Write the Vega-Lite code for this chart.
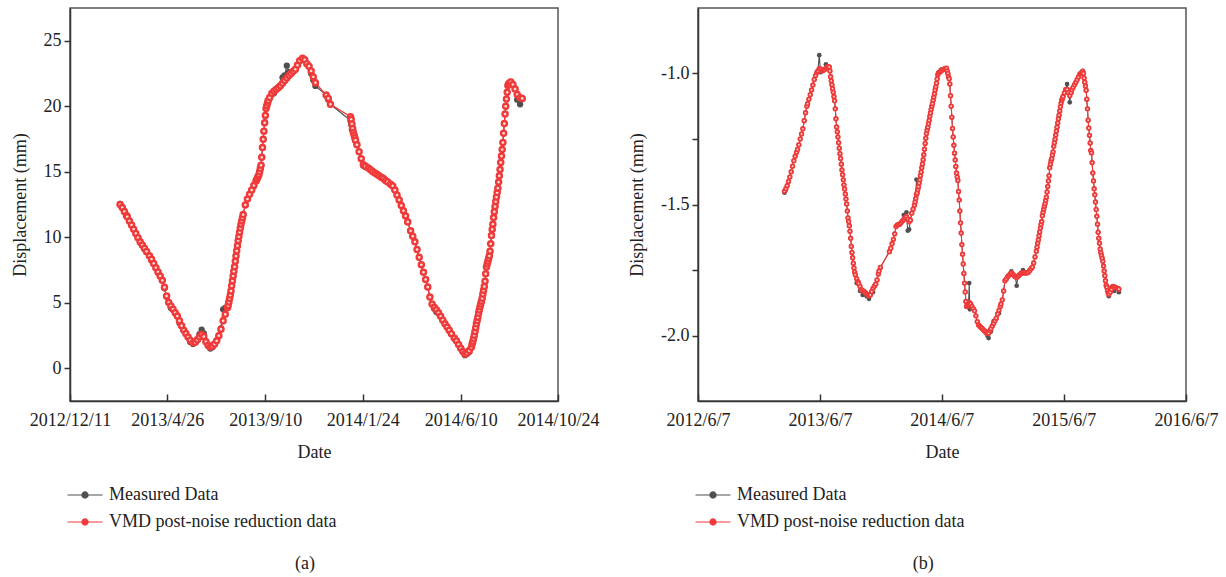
{
  "$schema": "https://vega.github.io/schema/vega-lite/v6.json",
  "background": "white",
  "padding": {"left": 10, "top": 7, "right": 0, "bottom": 0},
  "spacing": 140,
  "bounds": "flush",
  "datasets": {
    "a": [
      {"d":"2013-02-19","m":12.55,"v":12.5},{"d":"2013-02-22","m":12.27,"v":12.27},{"d":"2013-02-25","m":11.96,"v":11.96},{"d":"2013-02-28","m":11.62,"v":11.66},
      {"d":"2013-03-01","m":11.56,"v":11.56},{"d":"2013-03-04","m":11.24,"v":11.24},{"d":"2013-03-07","m":10.9,"v":10.93},{"d":"2013-03-10","m":10.61,"v":10.61},{"d":"2013-03-13","m":10.25,"v":10.29},{"d":"2013-03-16","m":9.97,"v":9.97},{"d":"2013-03-19","m":9.6,"v":9.65},{"d":"2013-03-22","m":9.41,"v":9.41},{"d":"2013-03-25","m":9.1,"v":9.16},{"d":"2013-03-28","m":8.85,"v":8.92},
      {"d":"2013-04-01","m":8.58,"v":8.58},{"d":"2013-04-04","m":8.2,"v":8.33},{"d":"2013-04-07","m":7.95,"v":8.0},{"d":"2013-04-10","m":7.68,"v":7.68},{"d":"2013-04-13","m":7.3,"v":7.35},{"d":"2013-04-16","m":7.04,"v":7.04},{"d":"2013-04-19","m":6.71,"v":6.71},{"d":"2013-04-22","m":6.1,"v":6.18},{"d":"2013-04-25","m":5.45,"v":5.52},{"d":"2013-04-28","m":5.02,"v":5.02},
      {"d":"2013-05-01","m":4.6,"v":4.75},{"d":"2013-05-04","m":4.5,"v":4.5},{"d":"2013-05-07","m":4.2,"v":4.24},{"d":"2013-05-10","m":3.98,"v":3.98},{"d":"2013-05-13","m":3.45,"v":3.63},{"d":"2013-05-16","m":3.2,"v":3.25},{"d":"2013-05-19","m":2.9,"v":2.9},{"d":"2013-05-22","m":2.6,"v":2.65},{"d":"2013-05-25","m":2.38,"v":2.38},{"d":"2013-05-28","m":2.0,"v":2.14},
      {"d":"2013-06-01","m":1.85,"v":1.95},{"d":"2013-06-04","m":1.99,"v":1.99},{"d":"2013-06-07","m":2.2,"v":2.17},{"d":"2013-06-10","m":2.6,"v":2.39},{"d":"2013-06-13","m":2.95,"v":2.58},{"d":"2013-06-16","m":2.65,"v":2.42},{"d":"2013-06-19","m":2.03,"v":2.03},{"d":"2013-06-22","m":1.7,"v":1.75},{"d":"2013-06-25","m":1.5,"v":1.62},{"d":"2013-06-28","m":1.6,"v":1.68},
      {"d":"2013-07-01","m":1.8,"v":1.85},{"d":"2013-07-04","m":2.09,"v":2.09},{"d":"2013-07-07","m":2.49,"v":2.49},{"d":"2013-07-10","m":3.05,"v":2.98},{"d":"2013-07-13","m":4.5,"v":3.62},{"d":"2013-07-16","m":4.6,"v":4.12},{"d":"2013-07-19","m":4.61,"v":4.61},{"d":"2013-07-20","m":4.79,"v":4.79},{"d":"2013-07-21","m":5.06,"v":5.06},{"d":"2013-07-22","m":5.32,"v":5.32},{"d":"2013-07-23","m":5.59,"v":5.59},{"d":"2013-07-24","m":5.9,"v":5.9},{"d":"2013-07-25","m":6.29,"v":6.29},{"d":"2013-07-26","m":6.67,"v":6.67},{"d":"2013-07-27","m":7.05,"v":7.05},{"d":"2013-07-28","m":7.4,"v":7.4},{"d":"2013-07-29","m":7.75,"v":7.75},{"d":"2013-07-30","m":8.17,"v":8.17},{"d":"2013-07-31","m":8.57,"v":8.57},
      {"d":"2013-08-01","m":8.96,"v":8.96},{"d":"2013-08-02","m":9.36,"v":9.36},{"d":"2013-08-03","m":9.74,"v":9.74},{"d":"2013-08-04","m":10.05,"v":10.05},{"d":"2013-08-05","m":10.39,"v":10.39},{"d":"2013-08-06","m":10.7,"v":10.7},{"d":"2013-08-07","m":11.0,"v":11.0},{"d":"2013-08-08","m":11.25,"v":11.25},{"d":"2013-08-09","m":11.49,"v":11.49},{"d":"2013-08-10","m":11.73,"v":11.73},{"d":"2013-08-13","m":12.47,"v":12.47},{"d":"2013-08-16","m":12.92,"v":12.92},{"d":"2013-08-19","m":13.28,"v":13.28},{"d":"2013-08-22","m":13.61,"v":13.61},{"d":"2013-08-25","m":13.9,"v":13.96},{"d":"2013-08-28","m":14.3,"v":14.3},{"d":"2013-08-29","m":14.42,"v":14.42},{"d":"2013-08-30","m":14.53,"v":14.53},{"d":"2013-08-31","m":14.65,"v":14.65},
      {"d":"2013-09-01","m":14.78,"v":14.78},{"d":"2013-09-02","m":15.0,"v":15.0},{"d":"2013-09-03","m":15.25,"v":15.25},{"d":"2013-09-04","m":15.5,"v":15.5},{"d":"2013-09-05","m":16.1,"v":16.1},{"d":"2013-09-06","m":16.85,"v":16.85},{"d":"2013-09-07","m":17.48,"v":17.48},{"d":"2013-09-08","m":18.1,"v":18.1},{"d":"2013-09-09","m":18.74,"v":18.74},{"d":"2013-09-10","m":19.3,"v":19.3},{"d":"2013-09-11","m":19.83,"v":19.83},{"d":"2013-09-12","m":20.04,"v":20.04},{"d":"2013-09-13","m":20.25,"v":20.25},{"d":"2013-09-14","m":20.43,"v":20.43},{"d":"2013-09-16","m":20.6,"v":20.67},{"d":"2013-09-19","m":20.9,"v":20.98},{"d":"2013-09-22","m":21.0,"v":21.15},{"d":"2013-09-25","m":21.28,"v":21.28},{"d":"2013-09-28","m":21.41,"v":21.41},
      {"d":"2013-10-01","m":21.56,"v":21.56},{"d":"2013-10-04","m":22.2,"v":21.76},{"d":"2013-10-07","m":22.35,"v":21.96},{"d":"2013-10-10","m":23.1,"v":22.15},{"d":"2013-10-13","m":22.6,"v":22.34},{"d":"2013-10-16","m":22.5,"v":22.5},{"d":"2013-10-19","m":22.67,"v":22.67},{"d":"2013-10-22","m":22.83,"v":22.83},{"d":"2013-10-25","m":23.14,"v":23.14},{"d":"2013-10-28","m":23.48,"v":23.48},
      {"d":"2013-11-01","m":23.66,"v":23.66},{"d":"2013-11-04","m":23.55,"v":23.55},{"d":"2013-11-07","m":23.25,"v":23.25},{"d":"2013-11-10","m":23.06,"v":23.06},{"d":"2013-11-13","m":22.5,"v":22.7},{"d":"2013-11-16","m":22.0,"v":22.24},{"d":"2013-11-19","m":21.55,"v":21.8},
      {"d":"2013-12-04","m":20.85,"v":20.85},{"d":"2013-12-07","m":20.5,"v":20.6},{"d":"2013-12-10","m":20.15,"v":20.15},
      {"d":"2014-01-07","m":18.9,"v":19.2},{"d":"2014-01-08","m":18.6,"v":19.0},{"d":"2014-01-09","m":18.2,"v":18.65},{"d":"2014-01-10","m":18.3,"v":18.3},{"d":"2014-01-11","m":18.0,"v":18.0},{"d":"2014-01-12","m":17.8,"v":17.8},{"d":"2014-01-13","m":17.6,"v":17.6},{"d":"2014-01-14","m":17.4,"v":17.4},{"d":"2014-01-16","m":17.06,"v":17.06},{"d":"2014-01-19","m":16.53,"v":16.53},{"d":"2014-01-22","m":16.0,"v":16.0},{"d":"2014-01-25","m":15.45,"v":15.53},{"d":"2014-01-28","m":15.35,"v":15.42},
      {"d":"2014-02-01","m":15.28,"v":15.28},{"d":"2014-02-04","m":15.15,"v":15.15},{"d":"2014-02-07","m":15.02,"v":15.02},{"d":"2014-02-10","m":14.91,"v":14.91},{"d":"2014-02-13","m":14.8,"v":14.8},{"d":"2014-02-16","m":14.69,"v":14.69},{"d":"2014-02-19","m":14.58,"v":14.58},{"d":"2014-02-22","m":14.48,"v":14.48},{"d":"2014-02-25","m":14.34,"v":14.34},{"d":"2014-02-28","m":14.22,"v":14.22},
      {"d":"2014-03-04","m":14.05,"v":14.05},{"d":"2014-03-07","m":13.92,"v":13.92},{"d":"2014-03-10","m":13.6,"v":13.6},{"d":"2014-03-13","m":13.22,"v":13.22},{"d":"2014-03-16","m":12.85,"v":12.85},{"d":"2014-03-19","m":12.42,"v":12.42},{"d":"2014-03-22","m":12.03,"v":12.03},{"d":"2014-03-25","m":11.63,"v":11.63},{"d":"2014-03-28","m":11.17,"v":11.17},
      {"d":"2014-04-01","m":10.49,"v":10.49},{"d":"2014-04-04","m":10.08,"v":10.08},{"d":"2014-04-07","m":9.65,"v":9.65},{"d":"2014-04-10","m":9.07,"v":9.07},{"d":"2014-04-13","m":8.47,"v":8.47},{"d":"2014-04-16","m":7.9,"v":7.9},{"d":"2014-04-19","m":7.33,"v":7.33},{"d":"2014-04-22","m":6.78,"v":6.78},{"d":"2014-04-25","m":6.2,"v":6.2},{"d":"2014-04-28","m":5.43,"v":5.43},
      {"d":"2014-05-01","m":4.9,"v":4.9},{"d":"2014-05-04","m":4.55,"v":4.65},{"d":"2014-05-07","m":4.3,"v":4.46},{"d":"2014-05-10","m":4.2,"v":4.23},{"d":"2014-05-13","m":3.96,"v":3.96},{"d":"2014-05-16","m":3.67,"v":3.67},{"d":"2014-05-19","m":3.39,"v":3.39},{"d":"2014-05-22","m":3.15,"v":3.15},{"d":"2014-05-25","m":2.9,"v":2.9},{"d":"2014-05-28","m":2.64,"v":2.64},
      {"d":"2014-06-01","m":2.31,"v":2.31},{"d":"2014-06-04","m":2.09,"v":2.09},{"d":"2014-06-07","m":1.81,"v":1.81},{"d":"2014-06-10","m":1.52,"v":1.52},{"d":"2014-06-13","m":1.27,"v":1.27},{"d":"2014-06-16","m":1.0,"v":1.08},{"d":"2014-06-19","m":1.1,"v":1.17},{"d":"2014-06-22","m":1.25,"v":1.35},{"d":"2014-06-25","m":1.6,"v":1.6},{"d":"2014-06-26","m":1.85,"v":1.85},{"d":"2014-06-27","m":2.05,"v":2.05},{"d":"2014-06-28","m":2.27,"v":2.27},{"d":"2014-06-29","m":2.52,"v":2.52},{"d":"2014-06-30","m":2.81,"v":2.81},
      {"d":"2014-07-01","m":3.1,"v":3.1},{"d":"2014-07-02","m":3.39,"v":3.39},{"d":"2014-07-03","m":3.64,"v":3.64},{"d":"2014-07-04","m":3.9,"v":3.9},{"d":"2014-07-05","m":4.2,"v":4.2},{"d":"2014-07-06","m":4.45,"v":4.45},{"d":"2014-07-07","m":4.69,"v":4.69},{"d":"2014-07-08","m":4.9,"v":4.9},{"d":"2014-07-09","m":5.12,"v":5.12},{"d":"2014-07-10","m":5.34,"v":5.34},{"d":"2014-07-11","m":5.66,"v":5.66},{"d":"2014-07-12","m":5.95,"v":5.95},{"d":"2014-07-13","m":6.24,"v":6.24},{"d":"2014-07-14","m":6.64,"v":6.64},{"d":"2014-07-15","m":7.21,"v":7.21},{"d":"2014-07-16","m":7.73,"v":7.73},{"d":"2014-07-17","m":7.96,"v":7.96},{"d":"2014-07-18","m":8.17,"v":8.17},{"d":"2014-07-19","m":8.38,"v":8.38},{"d":"2014-07-20","m":8.58,"v":8.58},{"d":"2014-07-21","m":8.94,"v":8.94},{"d":"2014-07-22","m":9.5,"v":9.5},{"d":"2014-07-23","m":10.13,"v":10.13},{"d":"2014-07-24","m":10.6,"v":10.6},{"d":"2014-07-25","m":11.0,"v":11.0},{"d":"2014-07-26","m":11.5,"v":11.5},{"d":"2014-07-27","m":11.95,"v":11.95},{"d":"2014-07-28","m":12.35,"v":12.35},{"d":"2014-07-29","m":12.73,"v":12.73},{"d":"2014-07-30","m":13.07,"v":13.07},{"d":"2014-07-31","m":13.41,"v":13.41},
      {"d":"2014-08-01","m":13.75,"v":13.75},{"d":"2014-08-02","m":14.21,"v":14.21},{"d":"2014-08-03","m":14.69,"v":14.69},{"d":"2014-08-04","m":15.17,"v":15.17},{"d":"2014-08-05","m":15.71,"v":15.71},{"d":"2014-08-06","m":16.2,"v":16.2},{"d":"2014-08-07","m":16.7,"v":16.7},{"d":"2014-08-08","m":17.23,"v":17.23},{"d":"2014-08-09","m":17.94,"v":17.94},{"d":"2014-08-10","m":18.68,"v":18.68},{"d":"2014-08-11","m":19.41,"v":19.41},{"d":"2014-08-12","m":20.0,"v":20.0},{"d":"2014-08-13","m":20.55,"v":20.55},{"d":"2014-08-14","m":21.06,"v":21.06},{"d":"2014-08-15","m":21.58,"v":21.58},{"d":"2014-08-16","m":21.7,"v":21.7},{"d":"2014-08-17","m":21.76,"v":21.76},{"d":"2014-08-19","m":21.86,"v":21.86},{"d":"2014-08-22","m":21.66,"v":21.66},{"d":"2014-08-25","m":21.32,"v":21.32},{"d":"2014-08-28","m":20.5,"v":20.9},
      {"d":"2014-09-01","m":20.15,"v":20.65},{"d":"2014-09-04","m":20.55,"v":20.6}
    ],
    "b": [
      {"d":"2013-02-21","m":-1.455,"v":-1.449},{"d":"2013-02-25","m":-1.445,"v":-1.44},
      {"d":"2013-03-01","m":-1.428,"v":-1.428},{"d":"2013-03-05","m":-1.412,"v":-1.412},{"d":"2013-03-09","m":-1.395,"v":-1.395},{"d":"2013-03-13","m":-1.375,"v":-1.375},{"d":"2013-03-17","m":-1.354,"v":-1.354},{"d":"2013-03-21","m":-1.333,"v":-1.333},{"d":"2013-03-25","m":-1.316,"v":-1.316},{"d":"2013-03-29","m":-1.301,"v":-1.301},
      {"d":"2013-04-01","m":-1.29,"v":-1.29},{"d":"2013-04-05","m":-1.272,"v":-1.272},{"d":"2013-04-09","m":-1.25,"v":-1.25},{"d":"2013-04-13","m":-1.231,"v":-1.231},{"d":"2013-04-17","m":-1.211,"v":-1.211},{"d":"2013-04-21","m":-1.18,"v":-1.18},{"d":"2013-04-25","m":-1.15,"v":-1.15},{"d":"2013-04-29","m":-1.125,"v":-1.125},
      {"d":"2013-05-01","m":-1.115,"v":-1.115},{"d":"2013-05-05","m":-1.098,"v":-1.098},{"d":"2013-05-09","m":-1.081,"v":-1.081},{"d":"2013-05-13","m":-1.063,"v":-1.063},{"d":"2013-05-17","m":-1.044,"v":-1.044},{"d":"2013-05-21","m":-1.023,"v":-1.023},{"d":"2013-05-25","m":-1.008,"v":-1.008},{"d":"2013-05-29","m":-0.996,"v":-0.996},
      {"d":"2013-06-01","m":-0.99,"v":-0.99},{"d":"2013-06-05","m":-0.93,"v":-0.982},{"d":"2013-06-09","m":-0.995,"v":-0.983},{"d":"2013-06-13","m":-0.99,"v":-0.99},{"d":"2013-06-17","m":-0.988,"v":-0.988},{"d":"2013-06-21","m":-0.985,"v":-0.985},{"d":"2013-06-25","m":-0.965,"v":-0.98},{"d":"2013-06-29","m":-0.975,"v":-0.975},
      {"d":"2013-07-01","m":-0.974,"v":-0.974},{"d":"2013-07-05","m":-0.975,"v":-0.975},{"d":"2013-07-07","m":-0.99,"v":-0.99},{"d":"2013-07-09","m":-1.012,"v":-1.012},{"d":"2013-07-11","m":-1.028,"v":-1.028},{"d":"2013-07-13","m":-1.043,"v":-1.043},{"d":"2013-07-15","m":-1.058,"v":-1.058},{"d":"2013-07-17","m":-1.072,"v":-1.072},{"d":"2013-07-19","m":-1.088,"v":-1.088},{"d":"2013-07-21","m":-1.104,"v":-1.104},{"d":"2013-07-23","m":-1.135,"v":-1.135},{"d":"2013-07-25","m":-1.173,"v":-1.173},{"d":"2013-07-27","m":-1.204,"v":-1.204},{"d":"2013-07-29","m":-1.222,"v":-1.222},{"d":"2013-07-31","m":-1.242,"v":-1.242},
      {"d":"2013-08-02","m":-1.264,"v":-1.264},{"d":"2013-08-04","m":-1.285,"v":-1.285},{"d":"2013-08-06","m":-1.306,"v":-1.306},{"d":"2013-08-08","m":-1.324,"v":-1.324},{"d":"2013-08-10","m":-1.346,"v":-1.346},{"d":"2013-08-12","m":-1.368,"v":-1.368},{"d":"2013-08-14","m":-1.386,"v":-1.386},{"d":"2013-08-16","m":-1.406,"v":-1.406},{"d":"2013-08-18","m":-1.425,"v":-1.425},{"d":"2013-08-20","m":-1.441,"v":-1.441},{"d":"2013-08-22","m":-1.46,"v":-1.46},{"d":"2013-08-24","m":-1.479,"v":-1.479},{"d":"2013-08-26","m":-1.498,"v":-1.498},{"d":"2013-08-28","m":-1.525,"v":-1.525},{"d":"2013-08-30","m":-1.551,"v":-1.551},
      {"d":"2013-09-01","m":-1.565,"v":-1.565},{"d":"2013-09-03","m":-1.581,"v":-1.581},{"d":"2013-09-05","m":-1.602,"v":-1.602},{"d":"2013-09-07","m":-1.629,"v":-1.629},{"d":"2013-09-09","m":-1.66,"v":-1.66},{"d":"2013-09-11","m":-1.683,"v":-1.683},{"d":"2013-09-13","m":-1.703,"v":-1.703},{"d":"2013-09-15","m":-1.724,"v":-1.724},{"d":"2013-09-17","m":-1.742,"v":-1.742},{"d":"2013-09-19","m":-1.758,"v":-1.758},{"d":"2013-09-21","m":-1.768,"v":-1.768},{"d":"2013-09-25","m":-1.8,"v":-1.783},{"d":"2013-09-29","m":-1.795,"v":-1.795},
      {"d":"2013-10-01","m":-1.802,"v":-1.802},{"d":"2013-10-05","m":-1.83,"v":-1.813},{"d":"2013-10-09","m":-1.825,"v":-1.825},{"d":"2013-10-13","m":-1.845,"v":-1.829},{"d":"2013-10-17","m":-1.832,"v":-1.832},{"d":"2013-10-21","m":-1.837,"v":-1.837},{"d":"2013-10-25","m":-1.85,"v":-1.841},{"d":"2013-10-29","m":-1.845,"v":-1.845},
      {"d":"2013-11-01","m":-1.86,"v":-1.848},{"d":"2013-11-05","m":-1.845,"v":-1.845},{"d":"2013-11-09","m":-1.832,"v":-1.832},{"d":"2013-11-13","m":-1.835,"v":-1.82},{"d":"2013-11-17","m":-1.812,"v":-1.812},{"d":"2013-11-21","m":-1.804,"v":-1.804},{"d":"2013-11-25","m":-1.788,"v":-1.788},{"d":"2013-11-29","m":-1.765,"v":-1.765},
      {"d":"2013-12-01","m":-1.754,"v":-1.754},{"d":"2013-12-05","m":-1.74,"v":-1.74},
      {"d":"2014-01-01","m":-1.68,"v":-1.68},{"d":"2014-01-05","m":-1.667,"v":-1.667},{"d":"2014-01-09","m":-1.65,"v":-1.65},{"d":"2014-01-13","m":-1.633,"v":-1.633},{"d":"2014-01-17","m":-1.612,"v":-1.612},{"d":"2014-01-21","m":-1.584,"v":-1.584},{"d":"2014-01-25","m":-1.578,"v":-1.578},{"d":"2014-01-29","m":-1.576,"v":-1.576},
      {"d":"2014-02-01","m":-1.575,"v":-1.575},{"d":"2014-02-05","m":-1.569,"v":-1.569},{"d":"2014-02-09","m":-1.563,"v":-1.563},{"d":"2014-02-13","m":-1.54,"v":-1.557},{"d":"2014-02-17","m":-1.551,"v":-1.551},{"d":"2014-02-21","m":-1.53,"v":-1.546},{"d":"2014-02-25","m":-1.6,"v":-1.555},
      {"d":"2014-03-01","m":-1.595,"v":-1.566},{"d":"2014-03-05","m":-1.56,"v":-1.56},{"d":"2014-03-09","m":-1.533,"v":-1.533},{"d":"2014-03-13","m":-1.518,"v":-1.518},{"d":"2014-03-17","m":-1.503,"v":-1.503},{"d":"2014-03-19","m":-1.49,"v":-1.49},{"d":"2014-03-21","m":-1.477,"v":-1.477},{"d":"2014-03-23","m":-1.405,"v":-1.463},{"d":"2014-03-25","m":-1.456,"v":-1.456},{"d":"2014-03-27","m":-1.444,"v":-1.444},{"d":"2014-03-29","m":-1.432,"v":-1.432},{"d":"2014-03-31","m":-1.418,"v":-1.418},
      {"d":"2014-04-02","m":-1.406,"v":-1.406},{"d":"2014-04-04","m":-1.39,"v":-1.39},{"d":"2014-04-06","m":-1.376,"v":-1.376},{"d":"2014-04-08","m":-1.36,"v":-1.36},{"d":"2014-04-10","m":-1.345,"v":-1.345},{"d":"2014-04-12","m":-1.329,"v":-1.329},{"d":"2014-04-14","m":-1.31,"v":-1.31},{"d":"2014-04-16","m":-1.289,"v":-1.289},{"d":"2014-04-18","m":-1.267,"v":-1.267},{"d":"2014-04-20","m":-1.247,"v":-1.247},{"d":"2014-04-22","m":-1.229,"v":-1.229},{"d":"2014-04-24","m":-1.216,"v":-1.216},{"d":"2014-04-26","m":-1.205,"v":-1.205},{"d":"2014-04-28","m":-1.192,"v":-1.192},{"d":"2014-04-30","m":-1.179,"v":-1.179},
      {"d":"2014-05-02","m":-1.164,"v":-1.164},{"d":"2014-05-04","m":-1.151,"v":-1.151},{"d":"2014-05-06","m":-1.137,"v":-1.137},{"d":"2014-05-08","m":-1.125,"v":-1.125},{"d":"2014-05-10","m":-1.115,"v":-1.115},{"d":"2014-05-12","m":-1.102,"v":-1.102},{"d":"2014-05-14","m":-1.09,"v":-1.09},{"d":"2014-05-16","m":-1.077,"v":-1.077},{"d":"2014-05-18","m":-1.063,"v":-1.063},{"d":"2014-05-20","m":-1.051,"v":-1.051},{"d":"2014-05-22","m":-1.037,"v":-1.037},{"d":"2014-05-24","m":-1.021,"v":-1.021},{"d":"2014-05-26","m":-1.005,"v":-1.005},{"d":"2014-05-28","m":-0.998,"v":-0.998},{"d":"2014-05-30","m":-0.996,"v":-0.996},
      {"d":"2014-06-01","m":-0.994,"v":-0.994},{"d":"2014-06-05","m":-0.985,"v":-0.99},{"d":"2014-06-09","m":-0.986,"v":-0.986},{"d":"2014-06-13","m":-0.984,"v":-0.984},{"d":"2014-06-17","m":-0.981,"v":-0.981},{"d":"2014-06-21","m":-0.98,"v":-0.98},{"d":"2014-06-23","m":-0.99,"v":-0.99},{"d":"2014-06-25","m":-1.0,"v":-1.0},{"d":"2014-06-27","m":-1.012,"v":-1.012},{"d":"2014-06-29","m":-1.02,"v":-1.02},
      {"d":"2014-07-01","m":-1.04,"v":-1.04},{"d":"2014-07-03","m":-1.085,"v":-1.085},{"d":"2014-07-05","m":-1.125,"v":-1.125},{"d":"2014-07-07","m":-1.167,"v":-1.167},{"d":"2014-07-09","m":-1.21,"v":-1.21},{"d":"2014-07-11","m":-1.242,"v":-1.242},{"d":"2014-07-13","m":-1.274,"v":-1.274},{"d":"2014-07-15","m":-1.304,"v":-1.304},{"d":"2014-07-17","m":-1.33,"v":-1.33},{"d":"2014-07-19","m":-1.355,"v":-1.355},{"d":"2014-07-21","m":-1.38,"v":-1.38},{"d":"2014-07-23","m":-1.395,"v":-1.395},{"d":"2014-07-25","m":-1.408,"v":-1.408},{"d":"2014-07-27","m":-1.45,"v":-1.45},{"d":"2014-07-29","m":-1.483,"v":-1.483},{"d":"2014-07-31","m":-1.525,"v":-1.525},
      {"d":"2014-08-02","m":-1.57,"v":-1.57},{"d":"2014-08-04","m":-1.609,"v":-1.609},{"d":"2014-08-06","m":-1.653,"v":-1.653},{"d":"2014-08-08","m":-1.69,"v":-1.69},{"d":"2014-08-10","m":-1.727,"v":-1.727},{"d":"2014-08-12","m":-1.763,"v":-1.763},{"d":"2014-08-14","m":-1.8,"v":-1.8},{"d":"2014-08-16","m":-1.834,"v":-1.834},{"d":"2014-08-18","m":-1.87,"v":-1.87},{"d":"2014-08-20","m":-1.889,"v":-1.889},{"d":"2014-08-22","m":-1.886,"v":-1.886},{"d":"2014-08-24","m":-1.882,"v":-1.882},{"d":"2014-08-26","m":-1.879,"v":-1.879},{"d":"2014-08-28","m":-1.8,"v":-1.876},{"d":"2014-08-30","m":-1.9,"v":-1.876},
      {"d":"2014-09-01","m":-1.88,"v":-1.88},{"d":"2014-09-05","m":-1.889,"v":-1.889},{"d":"2014-09-09","m":-1.898,"v":-1.898},{"d":"2014-09-13","m":-1.906,"v":-1.906},{"d":"2014-09-17","m":-1.925,"v":-1.925},{"d":"2014-09-21","m":-1.947,"v":-1.947},{"d":"2014-09-25","m":-1.96,"v":-1.96},{"d":"2014-09-29","m":-1.965,"v":-1.965},
      {"d":"2014-10-01","m":-1.968,"v":-1.968},{"d":"2014-10-05","m":-1.972,"v":-1.972},{"d":"2014-10-09","m":-1.978,"v":-1.978},{"d":"2014-10-13","m":-1.983,"v":-1.983},{"d":"2014-10-17","m":-1.988,"v":-1.988},{"d":"2014-10-21","m":-2.0,"v":-1.993},{"d":"2014-10-25","m":-2.01,"v":-1.991},{"d":"2014-10-29","m":-1.981,"v":-1.981},
      {"d":"2014-11-01","m":-1.985,"v":-1.974},{"d":"2014-11-05","m":-1.964,"v":-1.964},{"d":"2014-11-09","m":-1.945,"v":-1.954},{"d":"2014-11-13","m":-1.944,"v":-1.944},{"d":"2014-11-17","m":-1.934,"v":-1.934},{"d":"2014-11-21","m":-1.918,"v":-1.918},{"d":"2014-11-25","m":-1.915,"v":-1.904},{"d":"2014-11-29","m":-1.889,"v":-1.889},
      {"d":"2014-12-01","m":-1.88,"v":-1.88},{"d":"2014-12-05","m":-1.864,"v":-1.864},{"d":"2014-12-09","m":-1.83,"v":-1.83},{"d":"2014-12-13","m":-1.791,"v":-1.791},{"d":"2014-12-17","m":-1.784,"v":-1.784},{"d":"2014-12-21","m":-1.776,"v":-1.776},{"d":"2014-12-25","m":-1.77,"v":-1.77},{"d":"2014-12-29","m":-1.765,"v":-1.765},
      {"d":"2015-01-01","m":-1.755,"v":-1.761},{"d":"2015-01-05","m":-1.766,"v":-1.766},{"d":"2015-01-09","m":-1.771,"v":-1.771},{"d":"2015-01-13","m":-1.776,"v":-1.776},{"d":"2015-01-17","m":-1.81,"v":-1.779},{"d":"2015-01-21","m":-1.774,"v":-1.774},{"d":"2015-01-25","m":-1.769,"v":-1.769},{"d":"2015-01-29","m":-1.764,"v":-1.764},
      {"d":"2015-02-01","m":-1.761,"v":-1.761},{"d":"2015-02-05","m":-1.75,"v":-1.761},{"d":"2015-02-09","m":-1.761,"v":-1.761},{"d":"2015-02-13","m":-1.761,"v":-1.761},{"d":"2015-02-17","m":-1.761,"v":-1.761},{"d":"2015-02-21","m":-1.759,"v":-1.759},{"d":"2015-02-25","m":-1.752,"v":-1.752},
      {"d":"2015-03-01","m":-1.745,"v":-1.745},{"d":"2015-03-05","m":-1.739,"v":-1.739},{"d":"2015-03-09","m":-1.723,"v":-1.723},{"d":"2015-03-13","m":-1.7,"v":-1.7},{"d":"2015-03-17","m":-1.678,"v":-1.678},{"d":"2015-03-19","m":-1.663,"v":-1.663},{"d":"2015-03-21","m":-1.648,"v":-1.648},{"d":"2015-03-23","m":-1.635,"v":-1.635},{"d":"2015-03-25","m":-1.62,"v":-1.62},{"d":"2015-03-27","m":-1.605,"v":-1.605},{"d":"2015-03-29","m":-1.59,"v":-1.59},{"d":"2015-03-31","m":-1.576,"v":-1.576},
      {"d":"2015-04-02","m":-1.565,"v":-1.565},{"d":"2015-04-04","m":-1.543,"v":-1.543},{"d":"2015-04-06","m":-1.53,"v":-1.53},{"d":"2015-04-08","m":-1.518,"v":-1.518},{"d":"2015-04-10","m":-1.507,"v":-1.507},{"d":"2015-04-12","m":-1.497,"v":-1.497},{"d":"2015-04-14","m":-1.485,"v":-1.485},{"d":"2015-04-16","m":-1.472,"v":-1.472},{"d":"2015-04-18","m":-1.452,"v":-1.452},{"d":"2015-04-20","m":-1.431,"v":-1.431},{"d":"2015-04-22","m":-1.41,"v":-1.41},{"d":"2015-04-24","m":-1.39,"v":-1.39},{"d":"2015-04-26","m":-1.36,"v":-1.36},{"d":"2015-04-28","m":-1.346,"v":-1.346},{"d":"2015-04-30","m":-1.333,"v":-1.333},
      {"d":"2015-05-02","m":-1.325,"v":-1.325},{"d":"2015-05-04","m":-1.311,"v":-1.311},{"d":"2015-05-06","m":-1.299,"v":-1.299},{"d":"2015-05-08","m":-1.278,"v":-1.278},{"d":"2015-05-10","m":-1.264,"v":-1.264},{"d":"2015-05-12","m":-1.251,"v":-1.251},{"d":"2015-05-14","m":-1.235,"v":-1.235},{"d":"2015-05-16","m":-1.219,"v":-1.219},{"d":"2015-05-18","m":-1.205,"v":-1.205},{"d":"2015-05-20","m":-1.189,"v":-1.189},{"d":"2015-05-22","m":-1.173,"v":-1.173},{"d":"2015-05-24","m":-1.159,"v":-1.159},{"d":"2015-05-26","m":-1.143,"v":-1.143},{"d":"2015-05-28","m":-1.127,"v":-1.127},{"d":"2015-05-30","m":-1.113,"v":-1.113},
      {"d":"2015-06-01","m":-1.102,"v":-1.102},{"d":"2015-06-03","m":-1.095,"v":-1.095},{"d":"2015-06-05","m":-1.088,"v":-1.088},{"d":"2015-06-09","m":-1.074,"v":-1.074},{"d":"2015-06-13","m":-1.061,"v":-1.061},{"d":"2015-06-17","m":-1.04,"v":-1.061},{"d":"2015-06-21","m":-1.072,"v":-1.072},{"d":"2015-06-25","m":-1.11,"v":-1.085},{"d":"2015-06-29","m":-1.073,"v":-1.073},
      {"d":"2015-07-01","m":-1.062,"v":-1.062},{"d":"2015-07-05","m":-1.053,"v":-1.053},{"d":"2015-07-09","m":-1.043,"v":-1.043},{"d":"2015-07-13","m":-1.034,"v":-1.034},{"d":"2015-07-17","m":-1.024,"v":-1.024},{"d":"2015-07-21","m":-1.013,"v":-1.013},{"d":"2015-07-25","m":-1.003,"v":-1.003},{"d":"2015-07-29","m":-0.998,"v":-0.998},
      {"d":"2015-08-01","m":-0.994,"v":-0.994},{"d":"2015-08-03","m":-0.99,"v":-0.992},{"d":"2015-08-05","m":-1.0,"v":-1.0},{"d":"2015-08-07","m":-1.018,"v":-1.018},{"d":"2015-08-09","m":-1.033,"v":-1.033},{"d":"2015-08-11","m":-1.048,"v":-1.048},{"d":"2015-08-13","m":-1.064,"v":-1.064},{"d":"2015-08-15","m":-1.098,"v":-1.098},{"d":"2015-08-17","m":-1.135,"v":-1.135},{"d":"2015-08-19","m":-1.178,"v":-1.178},{"d":"2015-08-21","m":-1.208,"v":-1.208},{"d":"2015-08-23","m":-1.236,"v":-1.236},{"d":"2015-08-25","m":-1.265,"v":-1.265},{"d":"2015-08-27","m":-1.294,"v":-1.294},{"d":"2015-08-29","m":-1.303,"v":-1.303},{"d":"2015-08-31","m":-1.34,"v":-1.34},
      {"d":"2015-09-02","m":-1.38,"v":-1.38},{"d":"2015-09-04","m":-1.41,"v":-1.41},{"d":"2015-09-06","m":-1.44,"v":-1.44},{"d":"2015-09-08","m":-1.463,"v":-1.463},{"d":"2015-09-10","m":-1.49,"v":-1.49},{"d":"2015-09-12","m":-1.519,"v":-1.519},{"d":"2015-09-14","m":-1.545,"v":-1.545},{"d":"2015-09-16","m":-1.575,"v":-1.575},{"d":"2015-09-18","m":-1.606,"v":-1.606},{"d":"2015-09-20","m":-1.629,"v":-1.629},{"d":"2015-09-22","m":-1.648,"v":-1.648},{"d":"2015-09-24","m":-1.67,"v":-1.67},{"d":"2015-09-26","m":-1.684,"v":-1.684},{"d":"2015-09-28","m":-1.694,"v":-1.694},{"d":"2015-09-30","m":-1.705,"v":-1.705},
      {"d":"2015-10-02","m":-1.717,"v":-1.717},{"d":"2015-10-04","m":-1.735,"v":-1.735},{"d":"2015-10-06","m":-1.754,"v":-1.754},{"d":"2015-10-08","m":-1.772,"v":-1.772},{"d":"2015-10-10","m":-1.791,"v":-1.791},{"d":"2015-10-12","m":-1.808,"v":-1.808},{"d":"2015-10-14","m":-1.816,"v":-1.816},{"d":"2015-10-16","m":-1.828,"v":-1.828},{"d":"2015-10-18","m":-1.838,"v":-1.838},{"d":"2015-10-20","m":-1.85,"v":-1.843},{"d":"2015-10-24","m":-1.835,"v":-1.835},{"d":"2015-10-28","m":-1.815,"v":-1.824},
      {"d":"2015-11-01","m":-1.813,"v":-1.813},{"d":"2015-11-05","m":-1.83,"v":-1.814},{"d":"2015-11-09","m":-1.817,"v":-1.817},{"d":"2015-11-13","m":-1.819,"v":-1.819},{"d":"2015-11-17","m":-1.821,"v":-1.821},{"d":"2015-11-19","m":-1.835,"v":-1.823}
    ]
  },
  "hconcat": [
    {
      "width": 488,
      "height": 393,
      "data": {"name": "a"},
      "transform": [{"fold": ["m", "v"], "as": ["k", "val"]}],
      "title": {"text": "(a)", "orient": "bottom", "anchor": "middle", "frame": "bounds", "offset": 24},
      "encoding": {
        "x": {
          "field": "d", "type": "temporal", "title": "Date",
          "scale": {"type": "utc", "domain": [{"year": 2012, "month": 12, "date": 11, "utc": true}, {"year": 2014, "month": 10, "date": 24, "utc": true}]},
          "axis": {
            "values": [
              {"year": 2012, "month": 12, "date": 11, "utc": true},
              {"year": 2013, "month": 4, "date": 26, "utc": true},
              {"year": 2013, "month": 9, "date": 10, "utc": true},
              {"year": 2014, "month": 1, "date": 24, "utc": true},
              {"year": 2014, "month": 6, "date": 10, "utc": true},
              {"year": 2014, "month": 10, "date": 24, "utc": true}
            ],
            "labelExpr": "utcFormat(datum.value, '%Y/%-m/%-d')"
          }
        },
        "y": {
          "field": "val", "type": "quantitative", "title": "Displacement (mm)",
          "scale": {"domain": [-2.5, 27.5], "nice": false, "zero": false},
          "axis": {"values": [0, 5, 10, 15, 20, 25]}
        },
        "color": {
          "field": "k", "type": "nominal",
          "scale": {"domain": ["m", "v"], "range": ["#505050", "#f03a3a"]},
          "legend": {"orient": "none", "legendX": 0, "legendY": 472, "title": null,
                     "labelExpr": "datum.label == 'm' ? 'Measured Data' : 'VMD post-noise reduction data'"}
        }
      },
      "layer": [
        {"transform": [{"filter": "datum.k == 'm'"}], "mark": {"type": "line", "strokeWidth": 1.2}, "encoding": {}},
        {"transform": [{"filter": "datum.k == 'm'"}], "mark": {"type": "point", "shape": "circle", "filled": true, "size": 40, "opacity": 1}, "encoding": {}},
        {"transform": [{"filter": "datum.k == 'v'"}], "mark": {"type": "line", "strokeWidth": 1.2}, "encoding": {}},
        {"transform": [{"filter": "datum.k == 'v'"}], "mark": {"type": "point", "shape": "circle", "filled": false, "fill": "#fbdcdc", "fillOpacity": 1, "strokeWidth": 2.4, "size": 26, "opacity": 1}, "encoding": {}}
      ]
    },
    {
      "width": 488,
      "height": 393,
      "data": {"name": "b"},
      "transform": [{"fold": ["m", "v"], "as": ["k", "val"]}],
      "title": {"text": "(b)", "orient": "bottom", "anchor": "middle", "frame": "bounds", "offset": 24},
      "encoding": {
        "x": {
          "field": "d", "type": "temporal", "title": "Date",
          "scale": {"type": "utc", "domain": [{"year": 2012, "month": 6, "date": 7, "utc": true}, {"year": 2016, "month": 6, "date": 7, "utc": true}]},
          "axis": {
            "values": [
              {"year": 2012, "month": 6, "date": 7, "utc": true},
              {"year": 2013, "month": 6, "date": 7, "utc": true},
              {"year": 2014, "month": 6, "date": 7, "utc": true},
              {"year": 2015, "month": 6, "date": 7, "utc": true},
              {"year": 2016, "month": 6, "date": 7, "utc": true}
            ],
            "labelExpr": "utcFormat(datum.value, '%Y/%-m/%-d')"
          }
        },
        "y": {
          "field": "val", "type": "quantitative", "title": "Displacement (mm)",
          "scale": {"domain": [-2.25, -0.75], "nice": false, "zero": false},
          "axis": {"values": [-2.0, -1.75, -1.5, -1.25, -1.0],
                   "labelExpr": "datum.value == -1 ? '-1.0' : datum.value == -1.5 ? '-1.5' : datum.value == -2 ? '-2.0' : ''"}
        },
        "color": {
          "field": "k", "type": "nominal",
          "scale": {"domain": ["m", "v"], "range": ["#505050", "#f03a3a"]},
          "legend": {"orient": "none", "legendX": 0, "legendY": 472, "title": null,
                     "labelExpr": "datum.label == 'm' ? 'Measured Data' : 'VMD post-noise reduction data'"}
        }
      },
      "layer": [
        {"transform": [{"filter": "datum.k == 'm'"}], "mark": {"type": "line", "strokeWidth": 1.1}, "encoding": {}},
        {"transform": [{"filter": "datum.k == 'm'"}], "mark": {"type": "point", "shape": "circle", "filled": true, "size": 22, "opacity": 1}, "encoding": {}},
        {"transform": [{"filter": "datum.k == 'v'"}], "mark": {"type": "line", "strokeWidth": 1.1}, "encoding": {}},
        {"transform": [{"filter": "datum.k == 'v'"}], "mark": {"type": "point", "shape": "circle", "filled": false, "fill": "#fbdcdc", "fillOpacity": 1, "strokeWidth": 1.8, "size": 13, "opacity": 1}, "encoding": {}}
      ]
    }
  ],
  "resolve": {"scale": {"color": "independent"}, "legend": {"color": "independent"}},
  "config": {
    "font": "Liberation Serif",
    "view": {"stroke": "#555555", "strokeWidth": 1.5},
    "title": {"font": "Liberation Serif", "fontSize": 18, "fontWeight": "normal", "color": "#222222"},
    "axis": {
      "grid": false, "domainColor": "#333333", "domainWidth": 1.5, "tickColor": "#333333", "tickWidth": 1.5,
      "labelFont": "Liberation Serif", "labelFontSize": 18, "labelColor": "#222222",
      "titleFont": "Liberation Serif", "titleFontSize": 18, "titleFontWeight": "normal", "titleColor": "#222222",
      "labelFlush": false, "labelOverlap": false, "labelBound": false
    },
    "axisX": {"tickSize": -7, "labelPadding": 17, "titlePadding": 14},
    "axisY": {"tickSize": 6, "labelPadding": 3, "titlePadding": 14},
    "legend": {
      "labelFont": "Liberation Serif", "labelFontSize": 18, "labelColor": "#222222", "labelLimit": 400,
      "padding": 0, "rowPadding": 3, "labelOffset": 9, "symbolSize": 784, "symbolStrokeWidth": 1.2, "symbolOpacity": 1,
      "symbolType": "M-1.25,0H1.25M-0.22,0A0.22,0.22 0 1,1 0.22,0A0.22,0.22 0 1,1 -0.22,0Z"
    }
  }
}
